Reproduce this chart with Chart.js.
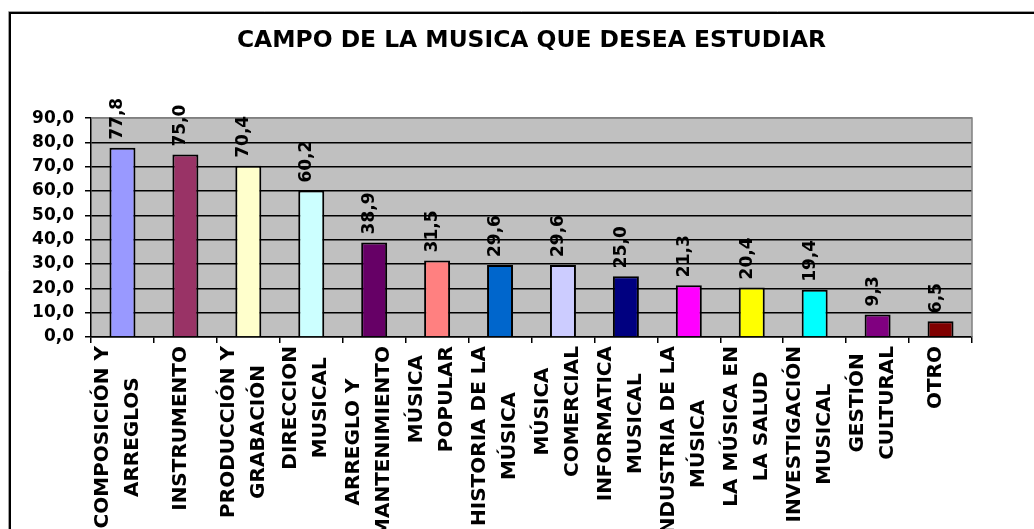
<!DOCTYPE html>
<html><head><meta charset="utf-8">
<script src="https://cdn.jsdelivr.net/npm/chart.js@4.4.1/dist/chart.umd.min.js"></script>
<style>html,body{margin:0;padding:0;background:#fff;overflow:hidden}#wrap{width:1034px;height:529px;position:relative}</style>
</head><body><div id="wrap"><canvas id="c" width="1034" height="529"></canvas></div>
<script>
const chartTitle = "CAMPO DE LA MUSICA QUE DESEA ESTUDIAR";
const categories = [
  ["COMPOSICIÓN Y", "ARREGLOS"],
  ["INSTRUMENTO"],
  ["PRODUCCIÓN Y", "GRABACIÓN"],
  ["DIRECCION", "MUSICAL"],
  ["ARREGLO Y", "MANTENIMIENTO"],
  ["MÚSICA", "POPULAR"],
  ["HISTORIA DE LA", "MÚSICA"],
  ["MÚSICA", "COMERCIAL"],
  ["INFORMATICA", "MUSICAL"],
  ["INDUSTRIA DE LA", "MÚSICA"],
  ["LA MÚSICA EN", "LA SALUD"],
  ["INVESTIGACIÓN", "MUSICAL"],
  ["GESTIÓN", "CULTURAL"],
  ["OTRO"]
];
const values = [77.8, 75.0, 70.4, 60.2, 38.9, 31.5, 29.6, 29.6, 25.0, 21.3, 20.4, 19.4, 9.3, 6.5];
const barColors = ["#9999FF", "#993366", "#FFFFCC", "#CCFFFF", "#660066", "#FF8080", "#0066CC",
                   "#CCCCFF", "#000080", "#FF00FF", "#FFFF00", "#00FFFF", "#800080", "#800000"];
const yMin = 0, yMax = 90, yStep = 10;

const fmt = v => Number(v).toFixed(1).replace('.', ',');
const FONT = '"DejaVu Sans", sans-serif';

const backdrop = {
  id: 'backdrop',
  beforeDraw(chart) {
    const {ctx, chartArea: a} = chart;
    ctx.save();
    ctx.fillStyle = '#fff';
    ctx.fillRect(0, 0, chart.width, chart.height);
    ctx.strokeStyle = '#a0a0a0'; ctx.lineWidth = 1;
    ctx.beginPath(); ctx.moveTo(8.5, chart.height); ctx.lineTo(8.5, 11.5); ctx.lineTo(chart.width, 11.5); ctx.stroke();
    ctx.strokeStyle = '#000'; ctx.lineWidth = 2;
    ctx.beginPath(); ctx.moveTo(10, chart.height); ctx.lineTo(10, 13); ctx.lineTo(chart.width, 13); ctx.stroke();
    ctx.fillStyle = '#C0C0C0';
    ctx.fillRect(a.left, a.top, a.right - a.left, a.bottom - a.top);
    ctx.restore();
  },
  beforeDatasetsDraw(chart) {
    const {ctx, chartArea: a} = chart;
    ctx.save();
    ctx.strokeStyle = '#808080'; ctx.lineWidth = 1.5;
    ctx.beginPath(); ctx.moveTo(a.left, a.top); ctx.lineTo(a.right, a.top); ctx.lineTo(a.right, a.bottom); ctx.stroke();
    ctx.restore();
  }
};

const valueLabels = {
  id: 'valueLabels',
  afterDatasetsDraw(chart) {
    const ctx = chart.ctx;
    const ds = chart.data.datasets[0].data;
    chart.getDatasetMeta(0).data.forEach((bar, i) => {
      ctx.save();
      ctx.translate(bar.x, bar.y - 8);
      ctx.rotate(-Math.PI / 2);
      ctx.font = 'bold 17px ' + FONT;
      ctx.textAlign = 'left';
      ctx.textBaseline = 'alphabetic';
      ctx.fillStyle = '#000';
      ctx.fillText(fmt(ds[i]), 0, 0);
      ctx.restore();
    });
  }
};

const catLabels = {
  id: 'catLabels',
  afterDraw(chart) {
    const ctx = chart.ctx;
    const xs = chart.scales.x;
    categories.forEach((lines, i) => {
      const x = xs.getPixelForValue(i);
      ctx.save();
      ctx.font = 'bold 20px ' + FONT;
      const maxW = Math.max(...lines.map(l => ctx.measureText(l).width));
      ctx.translate(x - 5, xs.top + 9);
      ctx.rotate(-Math.PI / 2);
      ctx.textAlign = 'center';
      ctx.textBaseline = 'middle';
      ctx.fillStyle = '#000';
      lines.forEach((l, j) => ctx.fillText(l, -maxW / 2, (j - (lines.length - 1) / 2) * 30));
      ctx.restore();
    });
  }
};

new Chart(document.getElementById('c'), {
  type: 'bar',
  data: {
    labels: categories.map(l => l.join(' ')),
    datasets: [{
      data: values,
      backgroundColor: barColors,
      borderColor: '#000',
      borderWidth: 2,
      categoryPercentage: 1,
      barPercentage: 0.413
    }]
  },
  options: {
    responsive: false,
    animation: false,
    devicePixelRatio: 1,
    layout: {padding: {left: 0, right: 62, top: 0, bottom: 0}},
    plugins: {
      legend: {display: false},
      tooltip: {enabled: false},
      title: {
        display: true, text: chartTitle, fullSize: false, color: '#000',
        font: {family: FONT, size: 23.4, weight: 'bold'},
        padding: {top: 27, bottom: 63}
      }
    },
    scales: {
      x: {
        ticks: {display: false},
        grid: {drawOnChartArea: false, drawTicks: true, tickLength: 6, color: '#000', lineWidth: 1.5, offset: true},
        border: {display: true, color: '#000', width: 1.5},
        afterFit(s) { s.height = 192; }
      },
      y: {
        min: yMin, max: yMax,
        ticks: {stepSize: yStep, color: '#000', padding: 11, font: {family: FONT, size: 17, weight: 'bold'}, callback: v => fmt(v)},
        grid: {color: c => (c.tick && c.tick.value === yMax) ? '#808080' : '#000', tickColor: '#000', lineWidth: 1.5, tickLength: 6},
        border: {color: '#000', width: 1.5},
        afterFit(s) { s.width = 91; }
      }
    }
  },
  plugins: [backdrop, valueLabels, catLabels]
});
</script>
</body></html>
